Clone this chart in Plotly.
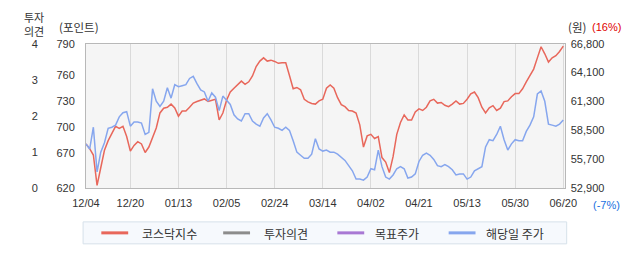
import plotly.graph_objects as go

W, H = 642, 268

# ---------------- data ----------------
tick_days = [0, 12, 25, 38, 51, 64, 77, 90, 103, 116, 129]
tick_labels = ["12/04", "12/20", "01/13", "02/05", "02/24", "03/14",
               "04/02", "04/21", "05/13", "05/30", "06/20"]

kosdaq = [672.5, 666.9, 659.4, 623.7, 644.4, 665.0, 676.3, 684.9, 693.2, 690.9,
          693.2, 681.2, 664.0, 670.7, 675.2, 672.5, 662.4, 668.8, 680.0, 691.3,
          709.0, 714.6, 715.7, 719.4, 714.9, 705.2, 711.2, 711.2, 715.7, 720.6,
          722.4, 724.0, 725.5, 722.5, 724.0, 725.1, 700.7, 708.9, 724.0, 733.7,
          738.2, 742.7, 746.5, 742.7, 745.7, 752.5, 763.7, 770.1, 773.9, 770.1,
          771.2, 769.7, 767.5, 768.2, 768.2, 753.2, 737.5, 739.0, 736.3, 725.1,
          722.1, 720.2, 719.4, 723.2, 725.1, 738.2, 742.0, 738.2, 727.0, 718.7,
          716.4, 711.9, 711.2, 708.9, 695.0, 668.8, 681.9, 683.8, 678.9, 681.2,
          656.4, 651.1, 638.7, 657.5, 683.8, 697.7, 706.7, 700.7, 700.7, 710.1,
          713.8, 711.9, 715.7, 723.2, 725.1, 720.6, 721.3, 718.0, 716.4, 719.4,
          723.2, 719.4, 720.2, 725.1, 731.4, 733.7, 727.0, 715.7, 708.9, 714.9,
          717.6, 711.9, 714.6, 722.4, 723.2, 728.1, 731.8, 731.8, 737.5, 745.7,
          753.2, 760.7, 773.9, 787.0, 778.7, 769.0, 773.9, 776.5, 781.4, 787.7]

stock_price = [57200, 56700, 58800, 54500, 56400, 57300, 58700, 58800, 59000, 59800,
               60200, 60300, 58900, 59300, 59300, 59200, 58100, 58300, 62500, 61300,
               60800, 61300, 62600, 61600, 62900, 62700, 62800, 62900, 63500, 63700,
               63000, 62400, 62200, 61300, 62100, 61700, 60400, 61800, 61400, 61000,
               60000, 59600, 59400, 60100, 60100, 59400, 59100, 58900, 59700, 60100,
               59500, 58800, 58700, 58500, 58800, 58500, 57500, 56400, 56100, 55800,
               55800, 56200, 57700, 56700, 56500, 56600, 56400, 56400, 56200, 55900,
               55600, 55100, 54600, 53800, 53800, 53700, 54000, 54800, 54700, 56600,
               55000, 54000, 53800, 54200, 54800, 55000, 54800, 53900, 54000, 54300,
               55500, 56100, 56300, 56100, 55700, 55100, 55000, 55200, 55000, 54700,
               54200, 54300, 54300, 53800, 54000, 54600, 54800, 55000, 56900, 57600,
               57500, 58100, 58900, 57600, 56600, 57200, 57600, 57500, 57500, 58400,
               59000, 59800, 62000, 62300, 61300, 59100, 59000, 58900, 59100, 59500]

opinion = []       # 투자의견 (no points in the period)
target_price = []  # 목표주가 (no points in the period)

index_tick_vals = [790, 754, 722.5, 692, 661.5, 620]
index_tick_text = ["790", "760", "730", "700", "670", "620"]
price_tick_vals = [52900, 55700, 58500, 61300, 64100, 66800]
price_tick_text = ["52,900", "55,700", "58,500", "61,300", "64,100", "66,800"]
opinion_ticks = [0, 1, 2, 3, 4]

series_names = ["코스닥지수", "투자의견", "목표주가", "해당일 주가"]
series_colors = ["#e8675b", "#8c8c8c", "#a878d4", "#86a6ee"]

# ---------------- layout helpers ----------------
def px(x):
    return x / W

def py(y):
    return 1 - y / H

days = list(range(len(kosdaq)))
NUM_FONT = dict(family="Liberation Sans, Arial, sans-serif", size=11, color="#333333")
KR = "Noto Sans CJK KR, sans-serif"

fig = go.Figure()
fig.add_trace(go.Scatter(x=days, y=kosdaq, mode="lines", name=series_names[0],
                         line=dict(color=series_colors[0], width=1.5), yaxis="y",
                         showlegend=False, hoverinfo="skip"))
fig.add_trace(go.Scatter(x=list(range(len(opinion))), y=opinion, mode="lines",
                         name=series_names[1], line=dict(color=series_colors[1], width=1.5),
                         yaxis="y3", showlegend=False))
fig.add_trace(go.Scatter(x=list(range(len(target_price))), y=target_price, mode="lines",
                         name=series_names[2], line=dict(color=series_colors[2], width=1.5),
                         yaxis="y2", showlegend=False))
fig.add_trace(go.Scatter(x=days, y=stock_price, mode="lines", name=series_names[3],
                         line=dict(color=series_colors[3], width=1.5), yaxis="y2",
                         showlegend=False, hoverinfo="skip"))

x_dom = [px(75), px(574)]
y_dom = [py(191), py(40)]

fig.update_layout(
    width=W, height=H,
    margin=dict(l=0, r=0, t=0, b=0),
    paper_bgcolor="white",
    plot_bgcolor="#f5f5f5",
    showlegend=False,
    xaxis=dict(domain=x_dom, range=[0, 129.4], tickvals=tick_days, ticktext=tick_labels,
               showgrid=True, gridcolor="#dadada", gridwidth=1,
               showline=True, linecolor="#b8b8b8", linewidth=1, mirror=True,
               ticks="", ticklabelstandoff=4, tickfont=NUM_FONT, zeroline=False,
               fixedrange=True),
    yaxis=dict(domain=y_dom, range=[620, 790], tickvals=index_tick_vals,
               ticktext=index_tick_text, showgrid=False, zeroline=False,
               showline=True, linecolor="#b8b8b8", linewidth=1, mirror=True,
               ticks="", ticklabelstandoff=8, tickfont=NUM_FONT, fixedrange=True),
    yaxis2=dict(overlaying="y", side="right", anchor="x", range=[52900, 66800],
                tickvals=price_tick_vals, ticktext=price_tick_text,
                showgrid=False, zeroline=False, showline=False, ticks="",
                ticklabelstandoff=5, tickfont=NUM_FONT, fixedrange=True),
    yaxis3=dict(overlaying="y", side="left", anchor="free", position=px(27),
                range=[0, 4], tickvals=opinion_ticks, showgrid=False, zeroline=False,
                showline=False, ticks="", ticklabelstandoff=2, tickfont=NUM_FONT,
                fixedrange=True),
)

ann = []
def text(x, y, s, color="#333333", size=12, xanchor="center", family=KR):
    ann.append(dict(x=px(x), y=py(y), xref="paper", yref="paper", text=s,
                    showarrow=False, xanchor=xanchor, yanchor="middle", borderpad=0,
                    font=dict(family=family, size=size, color=color)))

text(21, 11.5, "투자", size=11)
text(21, 26.5, "의견", size=11)
text(68, 22, "(포인트)", size=11.5)
text(587, 22, "(원)", size=11.5)
text(617, 22, "(16%)", color="#e00000", family="Liberation Sans, Arial, sans-serif", size=11)
text(617, 208, "(-7%)", color="#1a6fe0", family="Liberation Sans, Arial, sans-serif", size=11)

shapes = [dict(type="rect", xref="paper", yref="paper", x0=px(72), x1=px(576),
               y0=py(249), y1=py(226), fillcolor="#f6f9fd",
               line=dict(color="#d6e1ea", width=1), layer="below")]
leg_line_x = [91, 218, 337, 453]
leg_text_x = [132, 260, 375, 491]
for lx, tx, name, col in zip(leg_line_x, leg_text_x, series_names, series_colors):
    shapes.append(dict(type="line", xref="paper", yref="paper", x0=px(lx), x1=px(lx + 28),
                       y0=py(237.5), y1=py(237.5), line=dict(color=col, width=3)))
    text(tx, 238, name, xanchor="left")

fig.update_layout(annotations=ann, shapes=shapes)
fig.write_html("out.html")
